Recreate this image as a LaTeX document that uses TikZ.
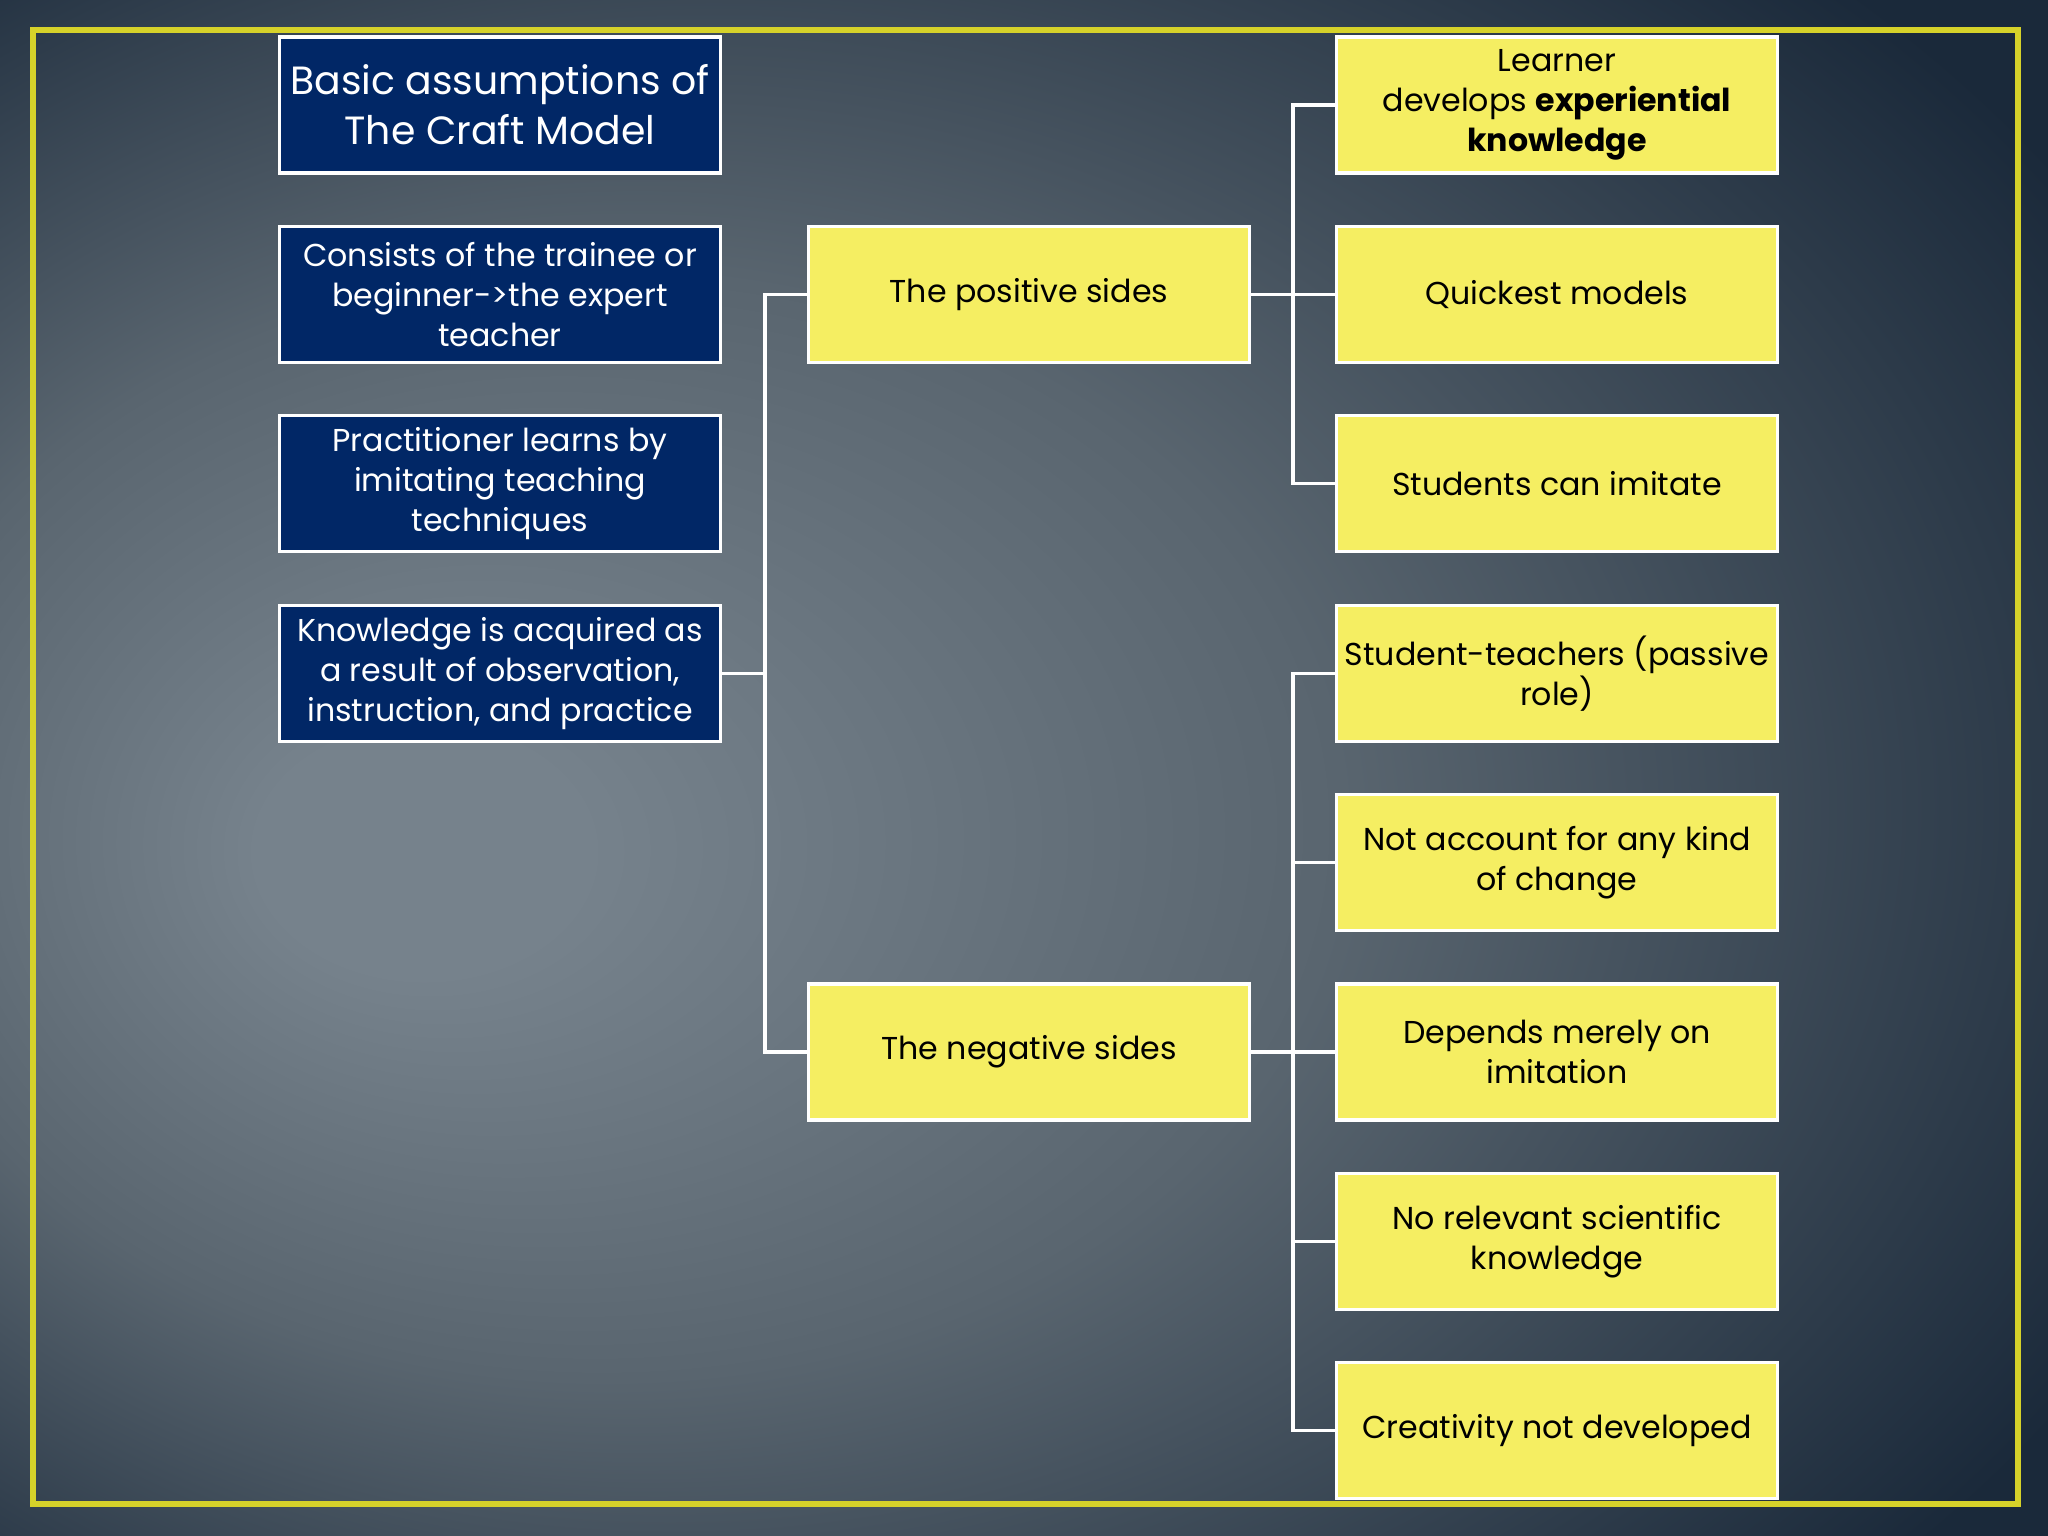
\documentclass[tikz,border=0pt]{standalone}
\usepackage{fontspec}
\setmainfont{Poppins}
\usetikzlibrary{positioning}
\definecolor{navy}{HTML}{012766}
\definecolor{lemon}{HTML}{F5EE62}
\definecolor{frame}{HTML}{D6D22A}
\definecolor{bglight}{HTML}{76828C}
\definecolor{bgmid}{HTML}{59656F}
\definecolor{bgdark}{HTML}{1A293A}
\pgfdeclareradialshading{slide}{\pgfpoint{-16bp}{-3bp}}{color(0bp)=(bglight); color(4bp)=(bglight); color(18bp)=(bgmid); color(36bp)=(bgdark); color(50bp)=(bgdark)}

\begin{document}
\begin{tikzpicture}[
  x=0.01cm, y=-0.01cm,
  font=\fontsize{9}{11.4}\selectfont,
  assume/.style={rectangle,draw=white,line width=0.9pt,fill=navy,text=white,minimum width=4.41cm,minimum height=1.36cm,inner sep=0pt,align=center},
  side/.style={assume,fill=lemon,text=black},
  link/.style={draw=white,line width=0.9pt}]

\path[use as bounding box,shading=slide] (0,0) rectangle (2048,1535);
\draw[frame,line width=1.6pt] (33,30) rectangle (2018,1504);

\node[assume,font=\fontsize{11.2}{14.2}\selectfont] (title) at (500,105) {Basic assumptions of\\The Craft Model};
\node[assume] (cons) at (500,294.4) {Consists of the trainee or\\beginner->the expert\\teacher};
\node[assume] (prac) at (500,483.8) {Practitioner learns by\\imitating teaching\\techniques};
\node[assume] (know) at (500,673.2) {Knowledge is acquired as\\a result of observation,\\instruction, and practice};

\node[side] (pos) at (1029,294.4) {The positive sides};
\node[side] (neg) at (1029,1052) {The negative sides};

\node[side] (p1) at (1557,105) {Learner\\develops \textbf{experiential}\\\textbf{knowledge}};
\node[side] (p2) at (1557,294.4) {Quickest models};
\node[side] (p3) at (1557,483.8) {Students can imitate};

\node[side] (n1) at (1557,673.2) {Student-teachers (passive\\role)};
\node[side] (n2) at (1557,862.6) {Not account for any kind\\of change};
\node[side] (n3) at (1557,1052) {Depends merely on\\imitation};
\node[side] (n4) at (1557,1241.4) {No relevant scientific\\knowledge};
\node[side] (n5) at (1557,1430.8) {Creativity not developed};

\coordinate (spine) at (765,673.2);
\coordinate (pj) at (1293,294.4);
\coordinate (nj) at (1293,1052);

\draw[link] (know.east) -- (spine);
\draw[link] (pos.west) -| (spine) |- (neg.west);
\draw[link] (pos.east) -- (pj);
\draw[link] (neg.east) -- (nj);
\foreach \b in {p1,p2,p3} \draw[link] (\b.west) -| (pj);
\foreach \b in {n1,n2,n3,n4,n5} \draw[link] (\b.west) -| (nj);
\end{tikzpicture}
\end{document}
